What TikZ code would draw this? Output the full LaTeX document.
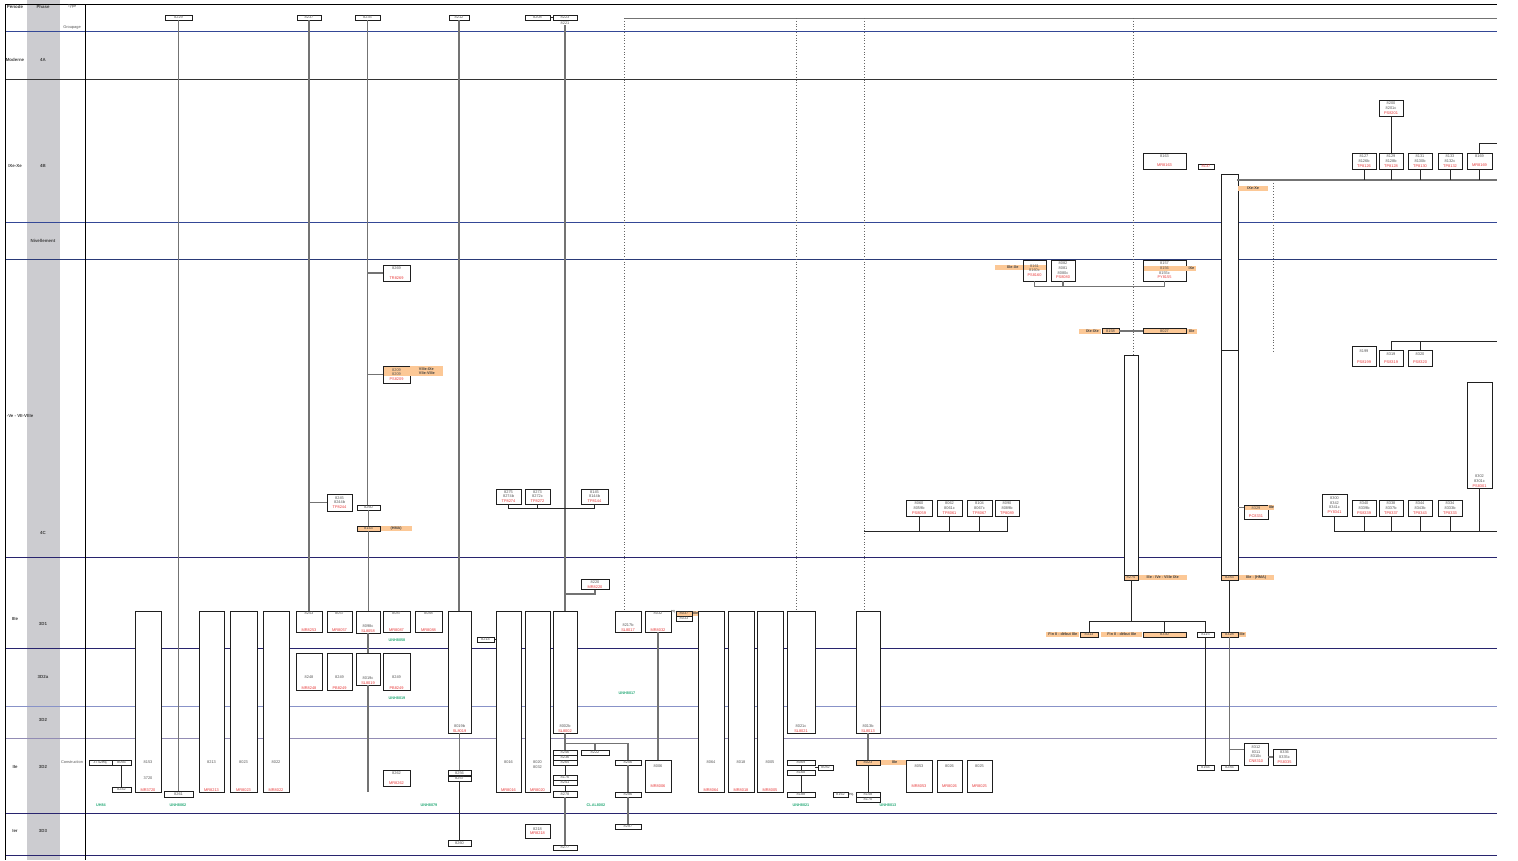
\documentclass[tikz,border=0pt]{standalone}
\usepackage{fontspec}
\setmainfont{Liberation Sans}
\usepackage{xcolor}
\usepackage{tikz}
\usetikzlibrary{positioning}

\definecolor{codered}{RGB}{232,56,56}
\definecolor{codegreen}{RGB}{40,170,120}
\definecolor{orgfill}{RGB}{252,200,150}
\definecolor{bandgray}{RGB}{204,204,208}
\definecolor{navyline}{RGB}{40,36,110}
\definecolor{blueline}{RGB}{52,72,150}
\definecolor{paleline}{RGB}{136,146,200}
\definecolor{mauveline}{RGB}{146,140,180}
\definecolor{txtgray}{RGB}{85,85,85}
\newcommand{\rc}[1]{\textcolor{codered}{#1}}

\begin{document}
\begin{tikzpicture}[x=1pt,y=-1pt,
  wh/.style 2 args={minimum width=#1,minimum height=#2},
  box/.style={draw=black!88,line width=0.9pt,fill=white,inner sep=0pt,align=center,
              font=\fontsize{3.9}{4.7}\selectfont,text=txtgray},
  obox/.style={box,fill=orgfill,text=black!75},
  olbl/.style={fill=orgfill,inner sep=0pt,minimum height=5,
               font=\fontsize{3.8}{4.5}\selectfont\bfseries,text=black!75},
  bl/.style={label={[txt,anchor=south,yshift=1]south:{#1}}},
  txt/.style={inner sep=0pt,align=center,font=\fontsize{3.9}{4.7}\selectfont,text=txtgray},
  grn/.style={inner sep=0pt,font=\fontsize{3.8}{4}\selectfont\bfseries,text=codegreen},
  hdr/.style={inner sep=0pt,align=center,font=\fontsize{4.4}{5}\selectfont\bfseries,text=black!75},
  conn/.style={draw=black!55,line width=1.2pt},
  tie/.style={draw=black!85,line width=0.9pt},
  dots/.style={draw=black!60,line width=0.8pt,dotted},
  row/.style={line width=0.8pt}
]
\useasboundingbox (0,0) rectangle (1518,860);

%% phase band, frame and period rows
\fill[bandgray] (27,0) rectangle (60,860);
\foreach \yy/\cc in {4/black,31/blueline,79/black!80,222/blueline,259/blueline!80!black,
                     557/navyline,648/navyline,706/paleline,738/mauveline,813/navyline,855/navyline}
  \draw[row,\cc] (5,\yy) -- (1497,\yy);
\draw[line width=1pt] (85,4) -- (85,860);
\draw[line width=0.8pt] (5,4) -- (5,860);

%% headers
\node[hdr] (hPer) at (15,7) {Période};
\node[hdr] (hPha) at (43,7) {Phase};
\node[txt] (hTyp) at (72,7) {Type};
\node[txt] (hGrp) at (72,28) {Groupage};
\node[hdr] (pMod) at (15,60) {Moderne};
\node[hdr] (f4A)  at (43,60) {4A};
\node[hdr] (pIX)  at (15,166) {IXe-Xe};
\node[hdr] (f4B)  at (43,166) {4B};
\node[hdr] (fNiv) at (43,241) {Nivellement};
\node[hdr] (pV)   at (20,416) {-Ve - VII-VIIIe};
\node[hdr] (f4C)  at (43,533) {4C};
\node[hdr] (pIII) at (15,619) {IIIe};
\node[hdr] (f3D1) at (43,624) {3D1};
\node[hdr] (f3D2a) at (43,677) {3D2a};
\node[hdr] (f3D2b) at (43,720) {3D2};
\node[hdr] (pII)  at (15,767) {IIe};
\node[hdr] (f3D3) at (43,767) {3D2};
\node[txt] (tCon) at (72,762) {Construction};
\node[hdr] (pI)   at (15,831) {Ier};
\node[hdr] (f3D4) at (43,831) {3D3};

%% top row
\node[box,wh={27}{5}] (t8229) at (178.5,17.5) {8229};
\node[box,wh={24}{5}] (t8237) at (309,17.5) {8237};
\node[box,wh={25}{5}] (t8235) at (367.5,17.5) {8235};
\node[box,wh={20}{5}] (t8212) at (459,17.5) {8212};
\node[box,wh={25}{5}] (t8208) at (537.5,17.5) {8208};
\node[box,wh={24}{5}] (t8223) at (565,17.5) {8223};
\node[txt] (t8221) at (565,23.5) {8221};
\coordinate (topL) at (624,18);
\coordinate (topR) at (1497,18);
\coordinate (k796) at (796,18);
\coordinate (k864) at (864,18);
\coordinate (k1133) at (1133,18);
\coordinate (k1273a) at (1273,180);
\coordinate (k1273b) at (1273,352);

%% 4B
\node[box,wh={43}{16}] (n8163) at (1164.5,161) {8163\\[4pt]\rc{MR8163}};
\node[box,wh={16}{5}] (n8137) at (1206,166.5) {\rc{8137}};
\node[box,wh={24}{16}] (n8200) at (1391,108) {8200\\8201c\\\rc{PS8201}};
\node[box,wh={24}{16}] (n8127) at (1364,161) {8127\\8126b\\\rc{TP8126}};
\node[box,wh={24}{16}] (n8129) at (1391,161) {8129\\8128b\\\rc{TP8128}};
\node[box,wh={24}{16}] (n8131) at (1420,161) {8131\\8130b\\\rc{TP8130}};
\node[box,wh={24}{16}] (n8133) at (1450,161) {8133\\8132c\\\rc{TP8132}};
\node[box,wh={25}{16}] (n8169) at (1479.5,161) {8169\\[4pt]\rc{MR8169}};
\coordinate (b4L) at (1237,180);
\coordinate (b4R) at (1497,180);
\coordinate (e8169) at (1497,143);
\node[box,wh={17}{176}] (r4B) at (1229.5,262) {};
\node[box,wh={17}{230}] (r4C) at (1229.5,465) {};
\node[olbl,minimum width=30,anchor=west] (l4B) at (1238,188) {IXe-Xe\hspace{12pt}};
\node[obox,wh={17}{5}] (o8283) at (1229.5,577.5) {8283};
\node[olbl,anchor=west,minimum width=35] (l8283) at (o8283.east) {IIIe - (HMA)\hspace{6pt}};
\node[box,wh={14}{225}] (q8275) at (1131,467.5) {};
\node[obox,wh={14}{5}] (o8275) at (1131,577.5) {8275};
\node[olbl,anchor=west,minimum width=48] (l8275) at (o8275.east) {IIIe - IVe - VIIIe IXe\hspace{6pt}};

%% 4C, right
\node[olbl,wh={23}{5}] (o8161) at (1034.5,267.5) {};
\node[box,fill=none,wh={23}{21}] (n8161) at (1034.5,270.5) {8161\\8160c\\\rc{PS8160}};
\node[olbl,anchor=east,minimum width=28] (l8161) at (o8161.west) {\hspace{8pt}IXe-Xe};
\node[box,wh={24}{21}] (n8082) at (1063,270.5) {8082\\8081\\8080c\\\rc{PS8080}};
\node[olbl,wh={43}{5}] (o8156) at (1164.5,268) {};
\node[box,fill=none,wh={43}{21}] (n8157) at (1164.5,270.5) {8157\\8156\\8155c\\\rc{PY8155}};
\node[olbl,anchor=west,minimum width=10] (l8157) at (o8156.east) {IXe};
\node[obox,wh={17}{5}] (n8158) at (1110.5,331) {8158};
\node[olbl,anchor=east,minimum width=22] (l8158) at (n8158.west) {\hspace{4pt}IXe-IXe};
\node[obox,wh={43}{5}] (n8027) at (1164.5,331) {8027};
\node[olbl,anchor=west,minimum width=10] (l8027) at (n8027.east) {IXe};
\node[box,wh={24}{20}] (n8199) at (1364,356.5) {8199\\[6pt]\rc{PS8199}};
\node[box,wh={24}{16}] (n8319) at (1391,358) {8319\\[3pt]\rc{PS8319}};
\node[box,wh={24}{16}] (n8320) at (1420,358) {8320\\[3pt]\rc{PS8320}};
\coordinate (e341) at (1497,341);
\node[box,wh={25}{106},bl={8302\\8301c\\\rc{PS8301}}] (n8302) at (1479.5,435) {};
\node[box,wh={25}{22}] (n8300) at (1334.5,505) {8300\\8342\\8341c\\\rc{PY8341}};
\node[box,wh={24}{16}] (n8340) at (1364,508) {8340\\8339b\\\rc{PS8339}};
\node[box,wh={24}{16}] (n8338) at (1391,508) {8338\\8337b\\\rc{TP8337}};
\node[box,wh={24}{16}] (n8344) at (1420,508) {8344\\8343b\\\rc{TP8343}};
\node[box,wh={24}{16}] (n8334) at (1450,508) {8334\\8333b\\\rc{TP8333}};
\coordinate (e531) at (1497,531);
\node[olbl,wh={24}{5}] (o8329) at (1256,507.5) {};
\node[box,fill=none,wh={24}{14}] (n8329) at (1256,512) {8329\\[3pt]\rc{PC8331}};
\node[olbl,anchor=west,minimum width=6] (l8329) at (o8329.east) {IIIe};

%% 4C, middle
\node[box,wh={26}{16}] (n8060) at (919,508) {8060\\8059b\\\rc{PS8059}};
\node[box,wh={25}{16}] (n8062) at (949.5,508) {8062\\8061c\\\rc{TP8061}};
\node[box,wh={25}{16}] (n8104) at (979.5,508) {8104\\8067c\\\rc{TP8067}};
\node[box,wh={24}{16}] (n8090) at (1007,508) {8090\\8089b\\\rc{TP8089}};
\coordinate (s864) at (864,531);
\node[box,wh={25}{15}] (n8275) at (508.5,496.5) {8275\\8274b\\\rc{TP8274}};
\node[box,wh={25}{15}] (n8273) at (537.5,496.5) {8273\\8272c\\\rc{TP8272}};
\node[box,wh={27}{15}] (n8145) at (594.5,496.5) {8145\\8144b\\\rc{TP8144}};

%% 4C, left
\node[box,wh={25}{17}] (n8245) at (339.5,502.5) {8245\\8244b\\\rc{TP8244}};
\node[box,wh={23}{5}] (n8260) at (368.5,507.5) {8260};
\node[obox,wh={23}{5}] (n8143) at (368.5,528.5) {8143};
\node[olbl,anchor=west,minimum width=31] (l8143) at (n8143.east) {(HMA)\hspace{12pt}};
\node[box,wh={27}{16}] (n8269) at (396.5,273) {8269\\[5pt]\rc{TR8269}};
\node[olbl,wh={27}{10}] (o8209) at (396.5,371) {};
\node[box,fill=none,wh={27}{17}] (n8209) at (396.5,374.5) {8209\\8209\\\rc{PS8209}};
\node[olbl,anchor=north west,minimum width=33,minimum height=10,align=left] (l8209)
  at (o8209.north east) {VIIIe-IXe\\VIIe-VIIIe};

%% 3D1 - 3D3, left
\node[box,wh={26}{181},bl={8153\\[11pt]3720\\[7pt]\rc{MR3720}}] (f8153) at (148,701.5) {};
\node[box,wh={25}{181},bl={8213\\[23pt]\rc{MR8213}}] (f8213) at (211.5,701.5) {};
\node[box,wh={27}{181},bl={8023\\[23pt]\rc{MR8023}}] (f8023) at (243.5,701.5) {};
\node[box,wh={26}{181},bl={8022\\[23pt]\rc{MR8022}}] (f8022) at (276,701.5) {};
\node[box,wh={26}{21}] (d8253) at (309,621.5) {8253\\[12pt]\rc{MR8253}};
\node[box,wh={25}{21}] (d8057) at (339.5,621.5) {8057\\[12pt]\rc{MR8057}};
\node[box,wh={24}{22},bl={8098c\\\rc{SL8058}}] (d8098) at (368,622) {};
\node[box,wh={27}{21}] (d8087) at (396.5,621.5) {8087\\[12pt]\rc{MR8087}};
\node[box,wh={27}{21}] (d8088) at (428.5,621.5) {8088\\[12pt]\rc{MR8088}};
\node[grn] (u8058) at (397,640) {UNH8058};
\node[box,wh={26}{37},bl={8248\\[6pt]\rc{MR8248}}] (e8248) at (309,671.5) {};
\node[box,wh={25}{37},bl={8249\\[6pt]\rc{PB8249}}] (e8249) at (339.5,671.5) {};
\node[box,wh={24}{32},bl={8019c\\\rc{SL8019}}] (e8019) at (368,669) {};
\node[box,wh={27}{37},bl={8249\\[6pt]\rc{PB8249}}] (e8249b) at (396.5,671.5) {};
\node[grn] (u8019) at (397,698) {UNH8019};
\node[box,wh={27}{16}] (n8262) at (396.5,778) {8262\\[5pt]\rc{MR8262}};
\node[box,wh={23}{5}] (n3742) at (100.5,762.5) {3742eq.};
\node[box,wh={19}{5}] (n8066) at (121.5,762.5) {8066};
\node[box,wh={19}{5}] (n8242) at (121.5,789.5) {8242};
\node[box,wh={29}{6}] (b8261) at (178.5,794) {8261};
\coordinate (x366) at (366,792);
\node[grn] (u84) at (101,805) {UH84};
\node[grn] (u8062) at (178,805) {UNH8062};
\node[grn] (u8079) at (429,805) {UNH8079};

%% 3D1 - 3D3, middle
\node[box,wh={23}{122},bl={8019b\\\rc{SL8019}}] (f8019b) at (459.5,672) {};
\node[box,wh={23}{5}] (g8256) at (459.5,773) {8256};
\node[box,wh={23}{5}] (g8257) at (459.5,778.5) {8257};
\node[box,wh={23}{6}] (h8260) at (459.5,843) {8260};
\node[box,wh={17}{5}] (n8214) at (485.5,639.5) {8214};
\node[box,wh={25}{181},bl={8016\\[23pt]\rc{MR8016}}] (f8016) at (508.5,701.5) {};
\node[box,wh={25}{181},bl={8020\\8032\\[18pt]\rc{MR8020}}] (f8020) at (537.5,701.5) {};
\node[box,wh={24}{122},bl={8002b\\\rc{SL8002}}] (f8002) at (565,672) {};
\node[box,wh={28}{10}] (d8220) at (595,584.5) {8220\\\rc{MR8220}};
\node[box,wh={26}{21},bl={8217b\\\rc{SL8017}}] (d8217) at (628,621.5) {};
\node[box,wh={26}{21}] (d8032) at (658,621.5) {8032\\[12pt]\rc{MR8032}};
\node[txt] (q1) at (673.5,612) {eq.};
\node[obox,wh={16}{5}] (o8037) at (684,613.5) {8037};
\node[box,wh={16}{5}] (n8033) at (684,618.5) {8033};
\node[olbl,anchor=west,minimum width=6] (l8037) at (o8037.east) {IIIe};
\node[grn] (u8017) at (627,693) {UNH8017};
\node[box,wh={26}{32}] (g8006) at (658,776) {8006\\[16pt]\rc{MR8006}};
\node[box,wh={24}{5}] (g8246) at (565,752.5) {8246};
\node[box,wh={24}{5}] (g8236) at (565,757.5) {8236};
\node[box,wh={24}{5}] (g8265) at (565,762.5) {8265};
\node[box,wh={24}{5}] (g8176) at (565,777.5) {8176};
\node[box,wh={24}{5}] (g8241) at (565,782.5) {8241};
\node[box,wh={24}{6}] (g8278) at (565,794) {8278};
\node[box,wh={24}{5}] (h8277) at (565,847.5) {8277};
\node[box,wh={28}{5}] (g8222) at (595,752.5) {8222};
\node[box,wh={26}{5}] (g8206) at (628,762.5) {8206};
\node[box,wh={26}{5}] (g8286) at (628,794.5) {8286};
\node[box,wh={26}{5}] (h8287) at (628,826.5) {8287};
\node[box,wh={25}{14}] (h8218) at (537.5,831) {8218\\\rc{MR8218}};
\node[grn] (uCL) at (596,805) {CLAL8002};

%% 3D1 - 3D3, right
\node[box,wh={26}{181},bl={8064\\[23pt]\rc{MR8064}}] (f8064) at (711,701.5) {};
\node[box,wh={26}{181},bl={8018\\[23pt]\rc{MR8018}}] (f8018) at (741,701.5) {};
\node[box,wh={26}{181},bl={8005\\[23pt]\rc{MR8005}}] (f8005) at (770,701.5) {};
\node[box,wh={28}{122},bl={8021c\\\rc{SL8021}}] (f8021) at (801,672) {};
\node[box,wh={28}{5}] (g8069) at (801,762.5) {8069};
\node[box,wh={28}{5}] (g8168) at (801,772.5) {8168};
\node[box,wh={28}{5}] (g8188) at (801,794.5) {8188};
\node[box,wh={15}{5}] (g8082) at (825.5,767.5) {8082};
\node[grn] (u8021) at (801,805) {UNH8021};
\node[box,wh={24}{122},bl={8013b\\\rc{SL8013}}] (f8013) at (868,672) {};
\node[obox,wh={24}{5}] (g8023) at (868,762.5) {8023};
\node[olbl,anchor=west,minimum width=26] (l8023) at (g8023.east) {\hspace{2pt}IIIe\hspace{16pt}};
\node[box,wh={24}{5}] (g8158) at (868,794.5) {8158};
\node[box,wh={24}{5}] (g8170) at (868,799.5) {8170};
\node[box,wh={15}{5}] (g8162) at (840.5,794.5) {8162};
\node[txt] (q2) at (851.5,795) {eq.};
\node[grn] (u8013) at (888,805) {UNH8013};
\node[box,wh={26}{32}] (g8053) at (919,776) {8053\\[16pt]\rc{MR8053}};
\node[box,wh={25}{32}] (g8026) at (949.5,776) {8026\\[16pt]\rc{MR8026}};
\node[box,wh={25}{32}] (g8025) at (979.5,776) {8025\\[16pt]\rc{MR8025}};

%% 3D1 - 3D3, far right
\node[obox,wh={18}{5}] (n8313) at (1089,634.5) {8313};
\node[olbl,anchor=east,minimum width=33] (l8313) at (n8313.west) {Fin II - début IIIe};
\node[obox,wh={43}{5}] (n8330) at (1164.5,634.5) {8330};
\node[olbl,anchor=east,minimum width=41] (l8330) at (n8330.west) {Fin II - début IIIe};
\node[box,wh={17}{5}] (n8115) at (1205.5,634.5) {8115};
\node[obox,wh={17}{5}] (n8328) at (1229.5,634.5) {8328};
\node[olbl,anchor=west,minimum width=7] (l8328) at (n8328.east) {IIIe};
\node[box,wh={17}{5}] (g8164) at (1205.5,767.5) {8164};
\node[box,wh={17}{5}] (g8284) at (1229.5,767.5) {8284};
\node[box,wh={24}{22}] (g8312) at (1256,754) {8312\\8311\\8310c\\\rc{CN8310}};
\node[box,wh={23}{16}] (g8336) at (1284.5,757) {8336\\8335c\\\rc{PS8335}};

%% long gray lines
\draw[conn] (t8229.south) -- (t8229.south |- b8261.north);
\draw[conn] (t8237.south) -- (t8237.south |- d8253.north);
\draw[conn] (t8237.south |- n8245.west) -- (n8245.west);
\draw[conn] (t8235.south) -- (t8235.south |- n8260.north);
\draw[conn] (t8235.south |- n8269.west) -- (n8269.west);
\draw[conn] (t8235.south |- n8209.west) -- (n8209.west);
\draw[conn] (n8260.south) -- (n8143.north);
\draw[conn] (n8143.south) -- (n8143.south |- d8098.north);
\draw[conn] (d8098.south) -- (d8098.south |- e8019.north);
\draw[conn] (e8019.south) -- (e8019.south |- x366);
\draw[conn] (t8212.south) -- (t8212.south |- f8019b.north);
\draw[conn] (f8019b.south) -- (f8019b.south |- g8256.north);
\draw[tie] (g8257.south) -- (g8257.south |- h8260.north);
\draw[tie] (t8208) -- (t8223);
\draw[conn] (t8221.south) -- (t8221.south |- f8002.north);
\draw[conn] (d8220.south) -- ++(0,4) -| (t8221.south |- f8002.north);
\draw[conn] (d8032.south) -- (d8032.south |- g8006.north);
\draw[tie] (n8214.east) -- (f8016.west |- n8214.east);

%% dotted ties from the top
\draw[conn,line width=0.8pt] (topL) -- (topR);
\draw[dots] (topL) -- (topL |- d8217.north);
\draw[dots] (k796) -- (k796 |- f8021.north);
\draw[dots] (k864) -- (k864 |- f8013.north);
\draw[dots] (k1133) -- (k1133 |- q8275.north);
\draw[dots] (k1273a) -- (k1273b);

%% 4B and 4C ties
\draw[conn] (b4L) -- (b4R);
\draw[tie] (n8127.south) -- (n8127.south |- b4R);
\draw[tie] (n8129.south) -- (n8129.south |- b4R);
\draw[tie] (n8131.south) -- (n8131.south |- b4R);
\draw[tie] (n8133.south) -- (n8133.south |- b4R);
\draw[tie] (n8169.south) -- (n8169.south |- b4R);
\draw[tie] (n8129.north) -- (n8200.south);
\draw[tie] (n8169.north) |- (e8169);
\draw[conn] (n8161.south) -- ++(0,5) -| (n8157.south);
\draw[conn] (n8082.south) -- ++(0,5);
\draw[conn] (n8158) -- (n8027);
\draw[tie] (n8319.north) |- (e341);
\draw[tie] (n8320.north) -- (n8320.north |- e341);
\draw[tie] (n8300.south) |- (e531);
\draw[tie] (n8340.south) -- (n8340.south |- e531);
\draw[tie] (n8338.south) -- (n8338.south |- e531);
\draw[tie] (n8344.south) -- (n8344.south |- e531);
\draw[tie] (n8334.south) -- (n8334.south |- e531);
\draw[tie] (n8302.south) -- (n8302.south |- e531);
\draw[tie] (s864) -| (n8090.south);
\draw[tie] (n8060.south) -- (n8060.south |- s864);
\draw[tie] (n8062.south) -- (n8062.south |- s864);
\draw[tie] (n8104.south) -- (n8104.south |- s864);
\draw[conn] (r4C.east |- o8329.west) -- (o8329.west);
\draw[tie] (n8275.south) -- ++(0,4) -| (n8145.south);
\draw[tie] (n8273.south) -- ++(0,4);

%% 3D ties
\draw[tie] (n8066.south) -- (n8242.north);
\draw[conn] (f8002.south) -- ++(0,10) -| (g8206.north);
\draw[conn] (f8002.south) -- (g8246.north);
\draw[conn] (g8222.north) -- ++(0,-7);
\draw[tie] (g8265.south) -- (g8176.north);
\draw[tie] (g8241.south) -- (g8278.north);
\draw[conn] (g8278.south) -- (h8277.north);
\draw[conn] (g8206.south) -- (g8286.north);
\draw[conn] (g8286.south) -- (h8287.north);
\draw[tie] (g8082.west) -- (g8082.west -| g8069.east);
\draw[tie] (g8069.south) -- (g8168.north);
\draw[tie] (g8168.south) -- (g8188.north);
\draw[conn] (f8013.south) -- (g8023.north);
\draw[tie] (g8023.south) -- (g8158.north);
\draw[tie] (o8275.south) -- ++(0,42);
\draw[tie] (n8313.north) -- ++(0,-10) -| (n8115.north);
\draw[tie] (n8330.north) -- ++(0,-10);
\draw[tie] (o8283.south) -- (n8328.north);
\draw[tie] (n8115.south) -- (g8164.north);
\draw[conn] (n8328.south) -- (g8284.north);
\draw[conn] (n8328.south |- g8312.160) -- (g8312.160);
\draw[conn] (g8336.west) -- (g8336.west -| g8312.east);
\end{tikzpicture}
\end{document}
